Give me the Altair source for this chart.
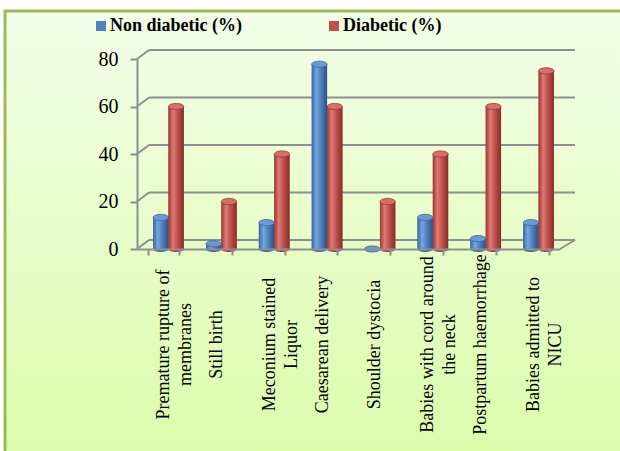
import altair as alt
import pandas as pd

categories = [
    "Premature rupture of\nmembranes",
    "Still birth",
    "Meconium stained\nLiquor",
    "Caesarean delivery",
    "Shoulder dystocia",
    "Babies with cord around\nthe neck",
    "Postpartum haemorrhage",
    "Babies admitted to\nNICU",
]
non_diabetic = [13.3, 2.2, 11.1, 77.8, 0, 13.3, 4.4, 11.1]
diabetic = [60, 20, 40, 60, 20, 40, 60, 75]
series = ["Non diabetic (%)", "Diabetic (%)"]
y_ticks = [0, 20, 40, 60, 80]

rows = []
for c, a, b in zip(categories, non_diabetic, diabetic):
    rows.append({"category": c, "series": series[0], "value": a})
    rows.append({"category": c, "series": series[1], "value": b})
df = pd.DataFrame(rows)
grid_df = pd.DataFrame({"v": y_ticks})
one = pd.DataFrame({"a": [0]})

W, H = 423, 190
DX, DY = 12, -9
GRAY = "#8f8f8f"
SERIF = "Liberation Serif"

yscale = alt.Scale(domain=[0, 80], nice=False, zero=True)
xscale = alt.Scale(domain=categories, paddingInner=0.42, paddingOuter=0.21)
oscale = alt.Scale(domain=series, range=[5, 35.7], paddingInner=0, paddingOuter=0)

x_axis = alt.Axis(
    title=None, labelAngle=270, labelAlign="center", labelBaseline="middle",
    labelPadding=89, labelLineHeight=22, labelFont=SERIF, labelFontSize=18,
    labelColor="black", labelLimit=400, labelOverlap=False,
    labelExpr="split(datum.label, '\\n')",
    tickBand="extent", tickSize=6, tickColor=GRAY, tickWidth=2,
    domainColor=GRAY, domainWidth=2, grid=False, zindex=1,
)
y_axis = alt.Axis(
    title=None, values=y_ticks, grid=False, labelFont=SERIF, labelFontSize=20,
    labelColor="black", labelPadding=12, tickSize=7, tickColor=GRAY, tickWidth=2,
    domainColor=GRAY, domainWidth=2, zindex=1,
)

X = alt.X("category:N", sort=categories, scale=xscale, axis=x_axis)
XO = alt.XOffset("series:N", scale=oscale, sort=series)
Y = alt.Y("value:Q", scale=yscale, axis=y_axis)

bg = alt.Chart(one).mark_rect(
    color=alt.Gradient(gradient="linear", x1=0, x2=0, y1=0, y2=1,
                       stops=[alt.GradientStop(color="#f3fde8", offset=0),
                              alt.GradientStop(color="#dafca8", offset=1)]),
    stroke="#9bbb59", strokeWidth=3,
).encode(x=alt.value(-132), x2=alt.value(520), y=alt.value(-48), y2=alt.value(420))

grid = alt.Chart(grid_df).mark_rule(color=GRAY, strokeWidth=2, yOffset=DY).encode(
    x=alt.value(DX), x2=alt.value(W + 15),
    y=alt.Y("v:Q", scale=yscale, axis=y_axis),
)
diag = alt.Chart(grid_df).mark_rule(color=GRAY, strokeWidth=2, y2Offset=DY).encode(
    x=alt.value(0), x2=alt.value(DX),
    y=alt.Y("v:Q", scale=yscale, axis=y_axis), y2=alt.Y2("v:Q"),
)
floor_r = alt.Chart(one).mark_rule(color=GRAY, strokeWidth=2).encode(
    x=alt.value(W), x2=alt.value(W + 15), y=alt.value(H), y2=alt.value(H + DY)
)

base = alt.Chart(df).mark_bar().encode(
    x=X, xOffset=XO, y=Y,
    color=alt.Color("series:N", sort=series,
                    scale=alt.Scale(domain=series, range=["#4f81bd", "#c0504d"]),
                    legend=alt.Legend(title=None)),
)

ELLIPSE = "M -1 0 A 1 0.4 0 1 0 1 0 A 1 0.4 0 1 0 -1 0 Z"
styles = {
    series[0]: dict(stops=["#3b679f", "#77a5df", "#4f81bd", "#2c5283"],
                    cap="#6d99d2", capstroke="#3b679f", bottom="#3f6ca6"),
    series[1]: dict(stops=["#9a3734", "#de7a75", "#c0504d", "#862d2a"],
                    cap="#d66f6a", capstroke="#9c3431", bottom="#a83f3c"),
}
layers = [bg, grid, diag, floor_r, base]
for s in series:
    st = styles[s]
    d = df[df["series"] == s]
    grad = alt.Gradient(gradient="linear", x1=0, x2=1, y1=0, y2=0,
                        stops=[alt.GradientStop(color=st["stops"][0], offset=0),
                               alt.GradientStop(color=st["stops"][1], offset=0.3),
                               alt.GradientStop(color=st["stops"][2], offset=0.6),
                               alt.GradientStop(color=st["stops"][3], offset=1)])
    bottom = alt.Chart(d).transform_calculate(zero="0").mark_point(
        shape=ELLIPSE, size=236, filled=True, opacity=1, color=st["bottom"]
    ).encode(x=X, xOffset=XO, y=alt.Y("zero:Q", scale=yscale, axis=y_axis))
    bar = alt.Chart(d).mark_bar(color=grad).encode(x=X, xOffset=XO, y=Y)
    cap = alt.Chart(d).mark_point(shape=ELLIPSE, size=236, filled=True, opacity=1,
                                  fill=st["cap"], stroke=st["capstroke"], strokeWidth=0.8
                                  ).encode(x=X, xOffset=XO, y=Y)
    layers += [bottom, bar, cap]

chart = alt.layer(*layers).properties(
    width=W, height=H, autosize="none",
    padding={"left": 137, "top": 59, "right": 60, "bottom": 202},
).configure(background="white").configure_view(stroke=None).configure_legend(
    orient="none", legendX=-45, legendY=-42, direction="horizontal",
    symbolType="square", symbolSize=100, symbolStrokeWidth=0,
    labelFont=SERIF, labelFontSize=18, labelFontWeight="bold", labelColor="black",
    columnPadding=83, labelOffset=0, padding=0,
)

chart.save("out.html", embed_options={"renderer": "svg", "actions": False})
